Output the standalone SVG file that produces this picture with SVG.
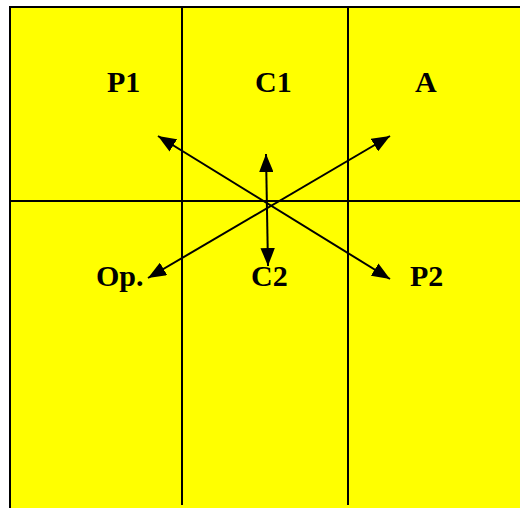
<svg xmlns="http://www.w3.org/2000/svg" width="520" height="508" viewBox="0 0 520 508">
<defs>
<style>
.grid{stroke:#000;stroke-width:2;fill:none}
.conn{stroke:#000;stroke-width:2;fill:none}
.lbl{font-family:"Liberation Serif","Times New Roman",serif;font-weight:bold;font-size:30px;fill:#000}
</style>
<marker id="ah" viewBox="0 0 10 8" refX="10" refY="4" markerWidth="9" markerHeight="7.2" markerUnits="strokeWidth" orient="auto-start-reverse">
<path d="M0,0 L10,4 L0,8 Z" fill="#000"/>
</marker>
</defs>
<rect x="0" y="0" width="520" height="508" fill="#fff"/>
<rect x="10" y="7" width="510" height="501" fill="#ffff00"/>
<g id="grid">
<line class="grid" x1="9" y1="7" x2="520" y2="7"/>
<line class="grid" x1="10" y1="6" x2="10" y2="508"/>
<line class="grid" x1="10" y1="201" x2="520" y2="201"/>
<line class="grid" x1="182" y1="7" x2="182" y2="505"/>
<line class="grid" x1="348" y1="7" x2="348" y2="505"/>
</g>
<g id="connectors">
<line class="conn" x1="158" y1="136" x2="390" y2="279" marker-start="url(#ah)" marker-end="url(#ah)"/>
<line class="conn" x1="390" y1="136" x2="148" y2="278" marker-start="url(#ah)" marker-end="url(#ah)"/>
<line class="conn" x1="266" y1="154" x2="268" y2="266" marker-start="url(#ah)" marker-end="url(#ah)"/>
</g>
<g id="P1"><text class="lbl" x="107" y="92">P1</text></g>
<g id="C1"><text class="lbl" x="255" y="92">C1</text></g>
<g id="A"><text class="lbl" x="415" y="92">A</text></g>
<g id="Op"><text class="lbl" x="96" y="286">Op.</text></g>
<g id="C2"><text class="lbl" x="251" y="286">C2</text></g>
<g id="P2"><text class="lbl" x="410" y="286">P2</text></g>
</svg>
